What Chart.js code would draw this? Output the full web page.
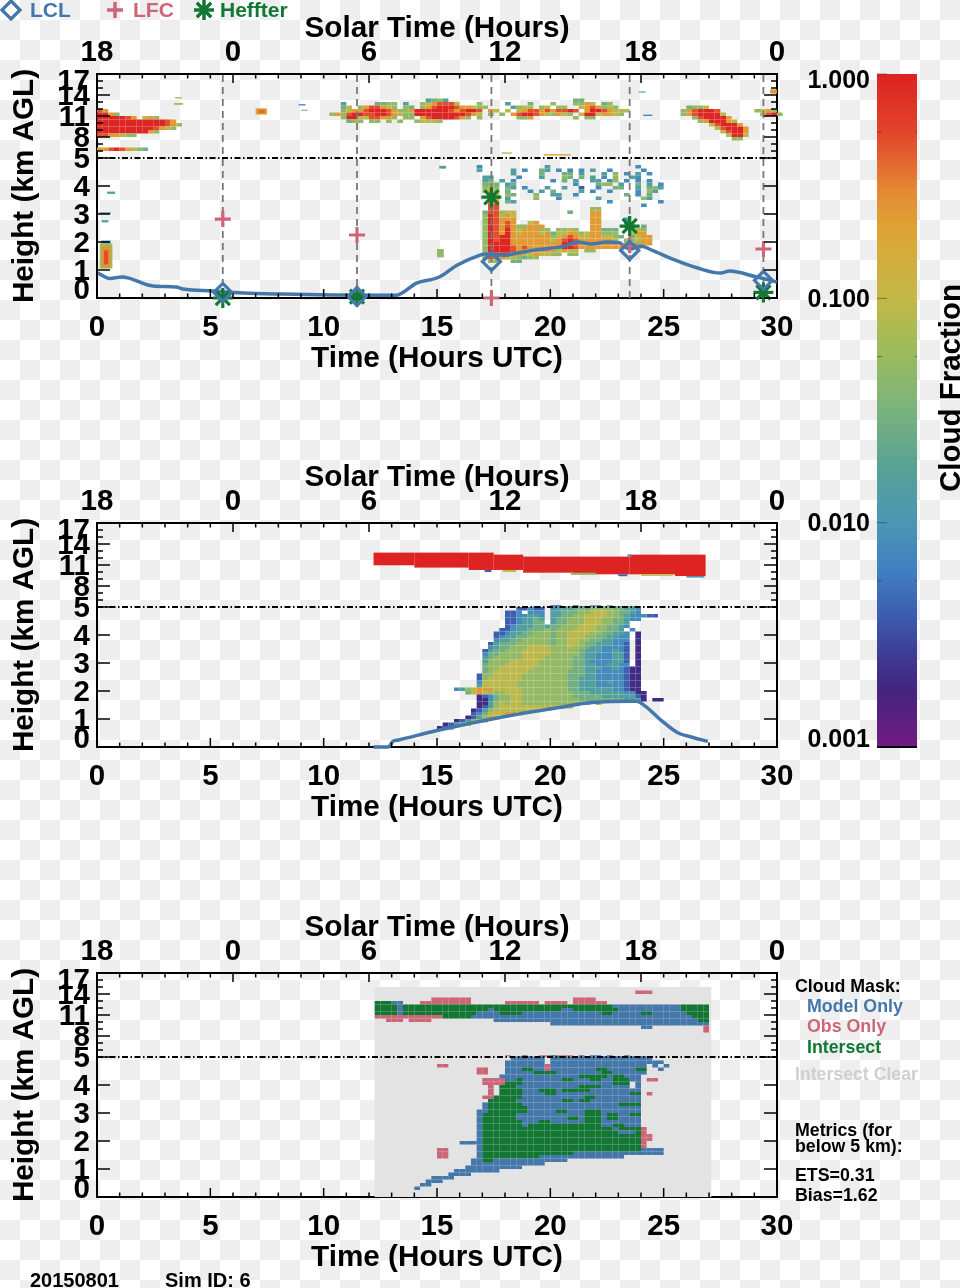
<!DOCTYPE html>
<html>
<head>
<meta charset="utf-8">
<title>Cloud Fraction 20150801</title>
<script src="https://cdn.jsdelivr.net/npm/chart.js@4"></script>
<style>
html, body { margin: 0; width: 960px; height: 1288px; overflow: hidden; }
body { position: relative; background: conic-gradient(#eee 25%, #fff 0 50%, #eee 0 75%, #fff 0) 0 0 / 40px 40px; }
canvas { position: absolute; left: 0; }
</style>
</head>
<body>
<canvas id="colorbar" width="960" height="800" style="top:0"></canvas>
<canvas id="obs" width="960" height="450" style="top:0"></canvas>
<canvas id="model" width="960" height="450" style="top:449px"></canvas>
<canvas id="mask" width="960" height="450" style="top:899px"></canvas>
<script>
// axes
const utcTicks = [0, 5, 10, 15, 20, 25, 30];
const solarTickHours = [0, 6, 12, 18, 24, 30];
const solarLabels = ['18', '0', '6', '12', '18', '0'];
const heightMajor = [0, 1, 2, 3, 4, 5, 8, 11, 14, 17];
const heightMinor = [6, 7, 9, 10, 12, 13, 15, 16];
const cfTicks = [1, 0.1, 0.01, 0.001];
const cfMinorTicks = [0.55, 0.055, 0.0055];
const cfTickLabels = ['1.000', '0.100', '0.010', '0.001'];

// colour table of the cloud fraction bar
const cfStopValues = [1, 0.55, 0.295, 0.2, 0.1, 0.059, 0.035, 0.0172, 0.01, 0.0062, 0.004, 0.0027, 0.0018, 0.001];
const cfStopColours = ['#dd2222', '#e2442b', '#e58b33', '#dea435', '#c3b847', '#9dbb5a', '#7fb578', '#56a196', '#4b96b5', '#4080c2', '#3c5fb0', '#3e3f98', '#44247f', '#731a82'];
// digit in the cell maps below -> cloud fraction
const cfClasses = [0.002, 0.004, 0.008, 0.015, 0.028, 0.05, 0.09, 0.23, 0.5, 0.95];

// soundings
const soundingTimes = [5.55, 11.47, 17.4, 23.5, 29.4];
const lclHeights = [0.2, 0.05, 1.3, 1.7, 0.63];
const lfcHeights = [2.82, 2.25, 0, 1.89, 1.75];
const hefHeights = [0, 0.05, 3.6, 2.57, 0.2];

// boundary layer lines
const obsLineTime = [0.05, 0.55, 1.1, 2.47, 3.5, 3.8, 5.1, 6.45, 8.2, 10.4, 13.2, 14.1, 15.1, 15.9, 16.9, 17.1, 18, 18.5, 19, 20, 20.6, 21.2, 21.8, 22.5, 23, 23.5, 24, 24.5, 25.4, 26.5, 27.5, 27.9, 29.1, 30];
const obsLineHeight = [0.89, 0.7, 0.75, 0.43, 0.39, 0.32, 0.25, 0.18, 0.14, 0.11, 0.1, 0.53, 0.75, 1.18, 1.53, 1.57, 1.53, 1.6, 1.67, 1.78, 1.85, 2.0, 1.93, 2.0, 1.98, 1.75, 1.85, 1.7, 1.39, 1.07, 0.89, 0.96, 0.75, 0.57];
const modelLineTime = [12.2, 12.85, 13.05, 13.3, 15, 18, 20.4, 21.85, 23.8, 24.2, 24.85, 25.6, 26.3, 26.95];
const modelLineHeight = [0, 0, 0.2, 0.25, 0.59, 1.09, 1.41, 1.59, 1.63, 1.45, 0.98, 0.52, 0.34, 0.2];

// observed clouds, cells of 0.25 h
const obsHighLeft = [ // from 12 km, 0.5 km rows
	'87',
	'9975',
	'9999987 675',
	'99999999999987',
	'999999999999875',
	'99999999998765',
	'99999999975',
	'8877655'
];
const obsThinLeft = ['778987654']; // from 6.5 km
const obsHighMid = [ // 10 h on, from 13.5 km
	'                  3453                      44',
	'   3     4455 3  5678886   5    3   4   5   5576 45',
	'   46 5788765 54 578999877655    3566 56 55  6787565',
	'   5677899987557999999878998 76 6 67887878898 79987666',
	' 575899889987655999999999876 5 5 78998765765 69967765',
	'   5996688775 55 789999875 5      557       5 55',
	'    455 55 5 5  56665'
];
const obsHighRight = [ // 25.75 h on, from 12.5 km
	' 4556',
	'5789998',
	'57899996',
	'  5899997',
	'   5799976',
	'     689997',
	'      689997',
	'       68997',
	'        6996',
	'         55'
];
const obsHighEnd = ['5675', ' 6895']; // 29 h on, from 12 km
const obsLow = [ // 16.5 h on, from 4.75 km, 0.125 km rows
	' 2           3               2',
	' 3     3 2  43 2 2 2 3  2     2',
	'       3    4   44 3   3 5 2 3 2',
	'  33    2   3   54 4 3 2 5  32',
	'  34 3 2      2 4 3  33 25 2 2 2',
	'  454 34          2   455 3  4 3 2',
	'  565 43 2   3  3  1  2  44  3 453',
	'  675 4   2 3 4    3 2  2    2 53',
	'   76 54   5  33  2        4 2 4',
	'   87 3    5   2      3       53',
	'   87 43                2        2',
	'   88                         2',
	'   88                55',
	'  488566         4   77',
	'  598676             77',
	'  598777             77    3',
	'  598787  67         77    3',
	'  59878755777        77    44 4',
	'  598797677755 5565  77444  565',
	'  598797677767466775677555  677',
	'  5989977777775678766776654 4677',
	'  598997777777678987777776 55677',
	'  599997777777779987777777 66577',
	'  59999878777777998777777777 5',
	'  59999877777776766 55',
	'  69999776676655 55',
	'  5887665455',
	'   55  44'
];
const obsSpecks = [ // start h, end h, bottom km, top km, fraction
	[0.12, 0.68, 1.05, 1.95, 0.06], [0.2, 0.6, 1.1, 1.85, 0.25], [0.3, 0.5, 1.2, 1.7, 0.5],
	[0.2, 0.6, 1.95, 2.05, 0.008], [0.45, 0.8, 3.72, 3.8, 0.012], [0.1, 0.6, 3, 3.06, 0.008],
	[0.2, 0.5, 2.7, 2.78, 0.015], [15.1, 15.4, 4.62, 4.72, 0.015], [15, 15.3, 1.45, 1.75, 0.05],
	[3.45, 3.75, 13.5, 13.7, 0.06], [3.4, 3.8, 12.6, 12.85, 0.06], [7, 7.5, 11.2, 12.1, 0.2],
	[7.1, 7.4, 11.4, 11.9, 0.4], [8.9, 9.2, 12.5, 12.7, 0.008], [9, 9.3, 11.75, 11.9, 0.03],
	[17.85, 18.3, 5.6, 5.8, 0.08], [19.7, 20.9, 5.35, 5.55, 0.2], [23.9, 24.2, 14.35, 14.5, 0.008],
	[24.1, 24.5, 11, 11.2, 0.007], [29.7, 30, 14.2, 14.8, 0.25]
];

// modelled clouds
const modelHigh = [ // start h, end h, bottom km, top km, fraction
	[12.2, 14, 10.96, 12.77, 0.97], [14, 16.4, 10.63, 12.77, 0.97], [16.4, 17.5, 10.29, 12.77, 0.97],
	[17.5, 18.8, 10.29, 12.48, 0.97], [18.8, 21, 9.9, 12.2, 0.97], [21, 23.5, 9.67, 12.2, 0.97],
	[23.5, 25.5, 9.67, 12.48, 0.97], [25.5, 26.85, 9.43, 12.48, 0.97],
	[17.1, 17.4, 10, 10.29, 0.004], [17.9, 18.5, 10, 10.29, 0.1], [20.9, 22, 9.6, 9.9, 0.05],
	[23, 23.4, 9.4, 9.67, 0.004], [24, 25.4, 9.45, 9.67, 0.1], [26, 26.8, 9.2, 9.43, 0.01],
	[23.4, 23.6, 12.2, 12.5, 0.008]
];
const modelLow = [ // 15 h on, from 5.25 km, 0.125 km rows
	'                    11  1  22 2',
	'               1 1  2333323344443332',
	'              11211 2333444555544332',
	'            112 222 3344455666554432',
	'            1122332 3344556666554322211',
	'            1123343 3445556665544322',
	'            1123344 34455566655443',
	'            1233344344555666554432',
	'           1123344454555666655443 2',
	'          112334455545566665544332 0',
	'          123344555545566655443322 0',
	'          233445555545566554433222 0',
	'         1344455555545566544333221 0',
	'         2344555666655565543322221 0',
	'        13445556666655555433322321 0',
	'        24455556666655555433222331 0',
	'        34555556666555554433222331 0',
	'        35555666665555554432222331 0',
	'        45556666665555554433223322 0',
	'        4556666665555555443332232100',
	'        4566666655555554443322222100',
	'       15566666555555554443322222100',
	'       15666666555555554433322222100',
	'       26666665555555554433322322100',
	'       36666665555555554433322222100',
	'   235677766666555555554433333322100',
	'     46765556665555555554443333332200',
	'       012455665555555554444433333310',
	'       002455665555555555444444443330 00',
	'       00356566555555555566 6',
	'       01356666666666666',
	'      013566666666',
	'      12466677',
	'     013577',
	'   013567',
	' 01346',
	'013'
];

// cloud mask: M model only, O obs only, I intersect
const maskClear = [[12.25, 27.1, 0, 15]];
const maskHigh = [ // 12.25 h on, from 14.5 km
	'                                              OOO',
	'',
	'          OOOOOOO                  OOOO',
	'IIIMM   OOOOOOOOO      OOOOOO OOOO OOOOOO',
	'IIIIMIIIIIIIIIIIIIIIIIIIIIIIIIIIIIIIIIIIIIMMMMMMMMMMMMIIIII',
	'IIIIMIIIIIIIIIIIIIIIMIIIIIIIIIIIIMMIIIIIIIIMMMMMMMMMMMIIIII',
	'IIIIMIIIIIIIIIIIIIMMMMIIIIMMMMMMMMMMMMMMIIMMMMMIIMMMMMMIIII',
	'OOOOOOOOOOOOIIIIIMMMMMMMMMMMMMMMMMMMMMMMMMMMMMMMMMMMMMMMIII',
	'  OOO OOOO           MMMMMMMMMMMMMMMMMMMMMMMMMMMMMMMMMMMMII',
	'                               MMMMMMMMMMMMMMMMMMMMMMMMMMMM',
	'                                               MM         O',
	'                                                          O'
];
const maskLow = [ // 14 h on, from 5.25 km, 0.125 km rows
	'                O  M  OOIOOO M MM M  M',
	'                  MMM MOOIIOOMMMMMMMMMMMM',
	'                 MMMMMM MMMMMMMMMMMMMMMMMM',
	'                MMMMMMM MMMMMMMMMMMMMMMMMMMM',
	'    OO          MMMMMMMOMMMMMMMMMMMMMMMMM M M',
	'           OO   MMMIIMMOMMMMMMMMIIMMMMMII  M',
	'           OO   MMMMMIIIIMMMMMMMMIIMMMMMM',
	'               MMMMMMMMMMMMMMIIIIIMIIMMM',
	'            OOOOMMIMMMMMMMIIMMMIIMMIIIMM OO',
	'            OOOOIIIMMMMMMMMMMMMMMMMIII M',
	'             O IIIMMMMMMMMMMMIIIIMMMMM M',
	'             O IIIIMMMIIIMIIIIIMMMMMMMMM',
	'             O IIIIMMMMIIMMMMMMMMMMMMMII O',
	'            OOIIIIIMMMMMMMMMMMIIMMMMMMMM',
	'             IIIIIMMMMMMMMIIMIIMMMMMMMMM',
	'            MIIIIIIMMMMMMMMMMMMMMMMMIIII',
	'            MIIIIIIIMMMMMMMMMMMMMMMMMMMM',
	'           MMIIIIIIIMMMMMIIMMMIIIMMMMMMM',
	'           MIIIIIIMMMMMMMMMMMMIIIMIIMMII',
	'           MIIIIIIMMMMMMMMMIIMIIIMIIMMMM',
	'           MIIIIIIIMMMIIMMMMMMIIIMMMMMMM',
	'           MIIIIIIIMIIIIIIIIIIIIIMMIIMMM',
	'           MIIIIIIIIIIIIIIIIIIIIIIIMIIIIO',
	'           MIIIIIIIIIIIIIIIIIIIIIIIIMMMIO',
	'           MIIIIIIIIIIIIIIIIIIIIIIIIIIIIOO',
	'           MIIIIIIIIIIIIIIIIIIIIIIIIIIIIOO',
	'        MMMMIIIIIIIIIIIIIIIIIIIIIIIIIIIIO',
	'           MIIIIIIIIIIIIIIIIIIIIIIIIIIIIO',
	'    OO     MIIIIIIIIIIIIIIIIIIIIIIIIIIIIMMMM',
	'    OO     MIIIIIIIIIIIIIIIIMMMMMMMMMMMMMMMM',
	'    OO     MIIIIIIIIIIMMMMMMMMMMMMMMM',
	'          MMIIMMMMMMMMMMMMM',
	'          MMMMMMMMMMMMM',
	'         MMMMMMMMMM',
	'       MMMMMMMM',
	'      MMMM',
	'   MMMM',
	'  MMM',
	' MM',
	'M'
];
const maskColours = { M: '#4477AA', O: '#CC6677', I: '#117733' };

const FONT = 'Liberation Sans';
const BLUE = '#4477AA', RED = '#CC6677', GREEN = '#117733';
Chart.defaults.font.family = FONT;
Chart.defaults.font.weight = 'bold';

// the height axis is 0-5 km linear, above that 4 times compressed
function axisHeight(h) {
	return h <= 5 ? h : 5 + (h - 5) / 4;
}

function hexToRgb(hex) {
	return [1, 3, 5].map((i) => parseInt(hex.substr(i, 2), 16));
}

function cfColour(cf) {
	const v = Math.log10(cf);
	for (let i = 1; i < cfStopValues.length; i++) {
		const hi = Math.log10(cfStopValues[i - 1]);
		const lo = Math.log10(cfStopValues[i]);
		if (v >= lo) {
			const f = (v - lo) / (hi - lo);
			const a = hexToRgb(cfStopColours[i]);
			const b = hexToRgb(cfStopColours[i - 1]);
			return `rgb(${a.map((c, k) => Math.round(c + (b[k] - c) * f)).join(',')})`;
		}
	}
	return cfStopColours[cfStopColours.length - 1];
}

// turn a text map into [t0, t1, h0, h1, colour]
function mapCells(rows, t0, hTop, dh, colourOf) {
	const cells = [];
	rows.forEach((row, r) => {
		[...row].forEach((ch, c) => {
			if (ch !== ' ') {
				cells.push([t0 + c * 0.25, t0 + (c + 1) * 0.25, hTop - (r + 1) * dh, hTop - r * dh, colourOf(ch)]);
			}
		});
	});
	return cells;
}

const digitColour = (ch) => cfColour(cfClasses[+ch]);
const rectCells = (list) => list.map((c) => [c[0], c[1], c[2], c[3], cfColour(c[4])]);

function cellPlugin(cells) {
	return {
		id: 'cells',
		beforeDatasetsDraw(chart) {
			const {ctx, scales: {x, y}} = chart;
			ctx.save();
			cells.forEach((c) => {
				const left = x.getPixelForValue(c[0]);
				const right = x.getPixelForValue(c[1]);
				const bottom = y.getPixelForValue(axisHeight(c[2]));
				const top = y.getPixelForValue(axisHeight(c[3]));
				ctx.fillStyle = c[4];
				ctx.fillRect(left, top, right - left, bottom - top);
			});
			ctx.restore();
		}
	};
}

function tick(ctx, x0, y0, x1, y1) {
	ctx.beginPath();
	ctx.moveTo(x0, y0);
	ctx.lineTo(x1, y1);
	ctx.stroke();
}

function drawText(ctx, str, x, y, size, colour, align) {
	ctx.font = `bold ${size}px "${FONT}"`;
	ctx.fillStyle = colour;
	ctx.textAlign = align || 'left';
	ctx.textBaseline = 'middle';
	ctx.fillText(str, x, y + 1.5);
}

// inward ticks on all four sides and the height labels
const framePlugin = {
	id: 'frame',
	afterDraw(chart) {
		const {ctx, chartArea: a, scales: {x, y}} = chart;
		ctx.save();
		ctx.strokeStyle = '#000';
		ctx.lineWidth = 1.5;
		for (let t = 1; t < 30; t++) {
			const px = x.getPixelForValue(t);
			tick(ctx, px, a.bottom, px, a.bottom - (utcTicks.includes(t) ? 9 : 4.5));
			tick(ctx, px, a.top, px, a.top + (solarTickHours.includes(t) ? 9 : 4.5));
		}
		heightMinor.forEach((h) => {
			const py = y.getPixelForValue(axisHeight(h));
			tick(ctx, a.left, py, a.left + 6, py);
			tick(ctx, a.right, py, a.right - 6, py);
		});
		heightMajor.forEach((h) => {
			const py = y.getPixelForValue(axisHeight(h));
			tick(ctx, a.left, py, a.left + 13, py);
			tick(ctx, a.right, py, a.right - 13, py);
			// end labels are pushed inside the axis, as in the plot
			const shift = h === 17 ? 6 : h === 0 ? -9 : 0;
			drawText(ctx, String(h), a.left - 7, py + shift, 29.5, '#000', 'right');
		});
		ctx.restore();
	}
};

function xScale(position, extra) {
	return Object.assign({
		type: 'linear',
		position: position,
		min: 0,
		max: 30,
		grid: {display: false, drawTicks: false},
		border: {color: '#000', width: 2}
	}, extra);
}

const axisTitle = (text, padding) => ({
	display: true,
	text: text,
	color: '#000',
	font: {size: 29.7, weight: 'bold'},
	padding: padding
});

function soundingRefs() {
	return soundingTimes.map((t) => ({
		data: [{x: t, y: 0}, {x: t, y: 8}],
		showLine: true,
		pointRadius: 0,
		borderColor: '#777',
		borderWidth: 1.8,
		borderDash: [7, 5],
		order: 5
	}));
}

function markerSet(heights, style, colour, radius) {
	return {
		data: soundingTimes.map((t, i) => ({x: t, y: axisHeight(heights[i])})),
		showLine: false,
		pointStyle: style,
		pointRadius: radius,
		pointBorderColor: colour,
		pointBackgroundColor: 'transparent',
		pointBorderWidth: 3.2,
		clip: false,
		order: 1
	};
}

function blueLine(times, heights) {
	return {
		data: times.map((t, i) => ({x: t, y: axisHeight(heights[i])})),
		showLine: true,
		pointRadius: 0,
		borderColor: BLUE,
		borderWidth: 3.5,
		cubicInterpolationMode: 'monotone',
		clip: false,
		order: 2
	};
}

// dash-dot line at the 5 km break
const fiveKmLine = () => ({
	data: [{x: 0, y: 5}, {x: 30, y: 5}],
	showLine: true,
	pointRadius: 0,
	borderColor: '#000',
	borderWidth: 1.8,
	borderDash: [6, 2.5, 1.5, 2.5],
	order: 4
});

function panel(id, cells, datasets, notes) {
	return new Chart(document.getElementById(id), {
		type: 'scatter',
		data: {datasets: datasets},
		plugins: [cellPlugin(cells), framePlugin, {id: 'notes', afterDraw: (chart) => notes && notes(chart.ctx)}],
		options: {
			responsive: false,
			animation: false,
			layout: {padding: 0},
			plugins: {legend: {display: false}, tooltip: {enabled: false}},
			scales: {
				x: xScale('bottom', {
					afterFit: (s) => { s.height = 152; },
					afterBuildTicks: (s) => { s.ticks = utcTicks.map((v) => ({value: v})); },
					ticks: {color: '#000', font: {size: 29.5, weight: 'bold'}, autoSkip: false, maxRotation: 0, padding: 12},
					title: axisTitle('Time (Hours UTC)', {top: 0, bottom: 73})
				}),
				xTop: xScale('top', {
					afterFit: (s) => { s.height = 74; },
					afterBuildTicks: (s) => { s.ticks = solarTickHours.map((v) => ({value: v})); },
					ticks: {
						color: '#000',
						font: {size: 29.5, weight: 'bold'},
						autoSkip: false,
						maxRotation: 0,
						padding: 3,
						callback: (v) => solarLabels[solarTickHours.indexOf(v)]
					},
					title: axisTitle('Solar Time (Hours)', {top: 11, bottom: 0})
				}),
				y: {
					type: 'linear',
					position: 'left',
					min: 0,
					max: 8,
					afterFit: (s) => { s.width = 97; },
					grid: {display: false, drawTicks: false},
					border: {color: '#000', width: 2},
					ticks: {display: false},
					title: axisTitle('Height (km AGL)', {top: 7, bottom: 0})
				},
				yRight: {
					type: 'linear',
					position: 'right',
					min: 0,
					max: 8,
					afterFit: (s) => { s.width = 183; },
					grid: {display: false, drawTicks: false},
					border: {color: '#000', width: 2},
					ticks: {display: false}
				}
			}
		}
	});
}

function drawLegend(ctx) {
	ctx.save();
	ctx.lineWidth = 3;
	ctx.strokeStyle = BLUE;
	Chart.helpers.drawPoint(ctx, {pointStyle: 'rectRot', radius: 9, rotation: 0, borderWidth: 3}, 11, 10);
	ctx.stroke();
	ctx.strokeStyle = RED;
	Chart.helpers.drawPoint(ctx, {pointStyle: 'cross', radius: 8, rotation: 0, borderWidth: 2.5}, 115, 10);
	ctx.stroke();
	ctx.strokeStyle = GREEN;
	Chart.helpers.drawPoint(ctx, {pointStyle: 'star', radius: 10, rotation: 0, borderWidth: 3}, 204, 10);
	ctx.stroke();
	drawText(ctx, 'LCL', 30, 10, 21, BLUE);
	drawText(ctx, 'LFC', 133, 10, 21, RED);
	drawText(ctx, 'Heffter', 220, 10, 21, GREEN);
	ctx.restore();
}

function drawMaskNotes(ctx) {
	// canvas top is at 899 in the page
	const top = 899;
	ctx.save();
	drawText(ctx, 'Cloud Mask:', 795, 986 - top, 17.8, '#000');
	drawText(ctx, 'Model Only', 807, 1006 - top, 17.8, BLUE);
	drawText(ctx, 'Obs Only', 807, 1026 - top, 17.8, RED);
	drawText(ctx, 'Intersect', 807, 1047 - top, 17.8, GREEN);
	drawText(ctx, 'Intersect Clear', 795, 1074 - top, 17.7, '#cfcfcf');
	drawText(ctx, 'Metrics (for', 795, 1130 - top, 17.8, '#000');
	drawText(ctx, 'below 5 km):', 795, 1146 - top, 17.8, '#000');
	drawText(ctx, 'ETS=0.31', 795, 1175 - top, 17.8, '#000');
	drawText(ctx, 'Bias=1.62', 795, 1195 - top, 17.8, '#000');
	drawText(ctx, '20150801', 30, 1280 - top, 20, '#000');
	drawText(ctx, 'Sim ID: 6', 165, 1280 - top, 20, '#000');
	ctx.restore();
}

const obsCells = [].concat(
	mapCells(obsHighLeft, 0, 12, 0.5, digitColour),
	mapCells(obsThinLeft, 0, 6.5, 0.5, digitColour),
	mapCells(obsHighMid, 10, 13.5, 0.5, digitColour),
	mapCells(obsHighRight, 25.75, 12.5, 0.5, digitColour),
	mapCells(obsHighEnd, 29, 12, 0.5, digitColour),
	mapCells(obsLow, 16.5, 4.75, 0.125, digitColour),
	rectCells(obsSpecks)
);

panel('obs', obsCells, [
	markerSet(lclHeights, 'rectRot', BLUE, 9),
	markerSet(lfcHeights, 'cross', RED, 8),
	markerSet(hefHeights, 'star', GREEN, 10),
	blueLine(obsLineTime, obsLineHeight),
	fiveKmLine()
].concat(soundingRefs()), drawLegend);

const modelCells = [].concat(
	rectCells(modelHigh),
	mapCells(modelLow, 15, 5.25, 0.125, digitColour)
);

panel('model', modelCells, [blueLine(modelLineTime, modelLineHeight), fiveKmLine()]);

const maskCells = [].concat(
	maskClear.map((c) => [c[0], c[1], c[2], c[3], '#e3e3e3']),
	mapCells(maskHigh, 12.25, 14.5, 0.5, (ch) => maskColours[ch]),
	mapCells(maskLow, 14, 5.25, 0.125, (ch) => maskColours[ch])
);

panel('mask', maskCells, [fiveKmLine()], drawMaskNotes);

// colour bar
new Chart(document.getElementById('colorbar'), {
	type: 'bar',
	data: {
		labels: ['Cloud Fraction'],
		datasets: [{
			data: [[0.001, 1]],
			barPercentage: 1,
			categoryPercentage: 1,
			backgroundColor: (c) => {
				const {chart} = c;
				if (!chart.chartArea) {
					return cfStopColours[0];
				}
				const y = chart.scales.y;
				const grad = chart.ctx.createLinearGradient(0, y.getPixelForValue(1), 0, y.getPixelForValue(0.001));
				const span = y.getPixelForValue(0.001) - y.getPixelForValue(1);
				cfStopValues.forEach((v, i) => {
					grad.addColorStop((y.getPixelForValue(v) - y.getPixelForValue(1)) / span, cfStopColours[i]);
				});
				return grad;
			}
		}]
	},
	plugins: [{
		id: 'barTicks',
		afterDraw(chart) {
			const {ctx, chartArea: a, scales: {y}} = chart;
			ctx.save();
			ctx.strokeStyle = 'rgba(60,60,30,0.55)';
			ctx.lineWidth = 1;
			cfTicks.forEach((v, i) => {
				const py = y.getPixelForValue(v);
				tick(ctx, a.left, py, a.left + 10, py);
				const shift = i === 0 ? 6 : i === cfTicks.length - 1 ? -8 : 0;
				drawText(ctx, cfTickLabels[i], 870, py + shift, 25, '#000', 'right');
			});
			cfMinorTicks.forEach((v) => {
				const py = y.getPixelForValue(v);
				tick(ctx, a.left, py, a.left + 5, py);
				tick(ctx, a.right, py, a.right - 2, py);
			});
			ctx.strokeStyle = '#000';
			ctx.lineWidth = 2;
			tick(ctx, a.left, a.bottom, a.right, a.bottom);
			ctx.translate(950, 388);
			ctx.rotate(-Math.PI / 2);
			drawText(ctx, 'Cloud Fraction', 0, 0, 29.5, '#000', 'center');
			ctx.restore();
		}
	}],
	options: {
		responsive: false,
		animation: false,
		layout: {padding: {right: 43, bottom: 53, top: 74, left: 0}},
		plugins: {legend: {display: false}, tooltip: {enabled: false}},
		scales: {
			x: {display: false},
			y: {
				type: 'logarithmic',
				position: 'left',
				min: 0.001,
				max: 1,
				afterFit: (s) => { s.width = 877; },
				grid: {display: false, drawTicks: false},
				border: {display: false},
				ticks: {display: false}
			}
		}
	}
});
</script>
</body>
</html>
